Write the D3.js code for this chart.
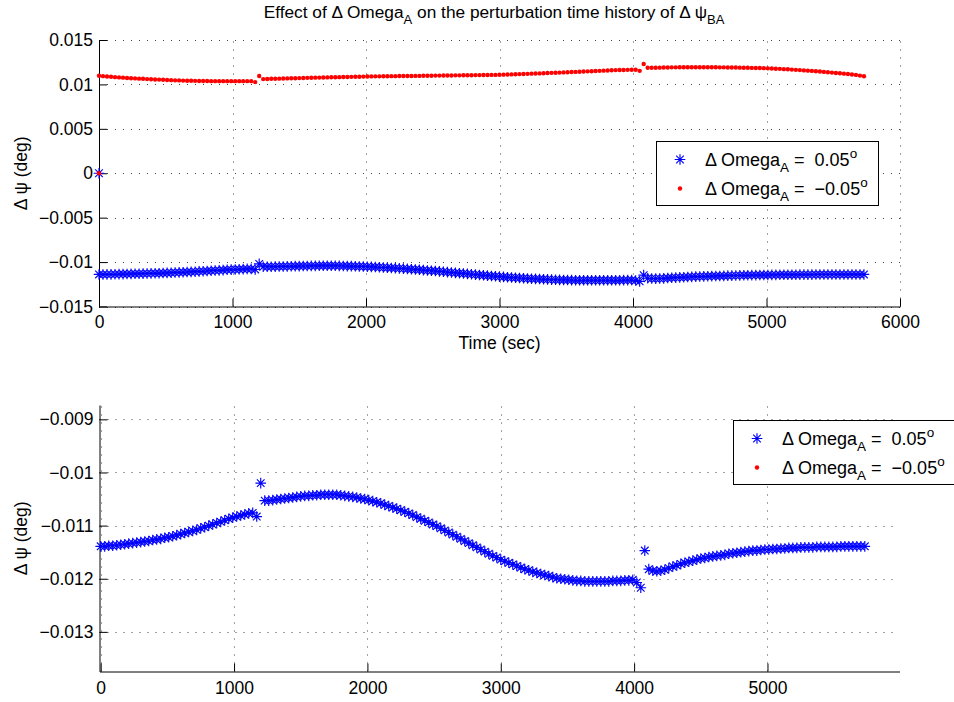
<!DOCTYPE html>
<html><head><meta charset="utf-8">
<script src="https://cdn.jsdelivr.net/npm/d3@7"></script>
<style>
body{margin:0;background:#fff;}
svg{font-family:"Liberation Sans",Arial,Helvetica,sans-serif;}
text{white-space:pre;}
</style></head><body>
<svg id="chart" width="954" height="702"></svg>
<script>
// sampling grid (s) of both runs
const sampleTimes = d3.range(0, 5731, 30);
// initial (t = 0) perturbation of both runs
const initialTime = [0];
const initialValue = [0];
// Δψ (deg) for ΔOmega_A = +0.05°
const psiPlus = [
-0.01139,-0.01139,-0.01138,-0.01138,-0.01137,-0.01136,-0.01135,-0.01134,-0.01133,-0.01132,
-0.01131,-0.01130,-0.01129,-0.01127,-0.01126,-0.01125,-0.01123,-0.01122,-0.01120,-0.01118,
-0.01116,-0.01114,-0.01112,-0.01110,-0.01108,-0.01105,-0.01103,-0.01100,-0.01098,-0.01095,
-0.01093,-0.01090,-0.01087,-0.01085,-0.01083,-0.01081,-0.01079,-0.01077,-0.01076,-0.01083,
-0.01020,-0.01053,-0.01053,-0.01052,-0.01051,-0.01050,-0.01049,-0.01048,-0.01047,-0.01046,
-0.01045,-0.01044,-0.01044,-0.01043,-0.01043,-0.01042,-0.01042,-0.01042,-0.01042,-0.01042,
-0.01043,-0.01044,-0.01045,-0.01046,-0.01047,-0.01049,-0.01050,-0.01052,-0.01054,-0.01056,
-0.01058,-0.01061,-0.01063,-0.01066,-0.01068,-0.01071,-0.01074,-0.01077,-0.01080,-0.01084,
-0.01087,-0.01091,-0.01094,-0.01098,-0.01101,-0.01105,-0.01109,-0.01113,-0.01117,-0.01121,
-0.01125,-0.01129,-0.01133,-0.01137,-0.01141,-0.01145,-0.01149,-0.01153,-0.01157,-0.01160,
-0.01164,-0.01167,-0.01170,-0.01173,-0.01176,-0.01179,-0.01182,-0.01184,-0.01187,-0.01189,
-0.01191,-0.01193,-0.01195,-0.01197,-0.01199,-0.01200,-0.01201,-0.01202,-0.01203,-0.01204,
-0.01204,-0.01205,-0.01205,-0.01205,-0.01205,-0.01205,-0.01205,-0.01205,-0.01204,-0.01204,
-0.01204,-0.01203,-0.01203,-0.01202,-0.01207,-0.01217,-0.01147,-0.01182,-0.01185,-0.01186,
-0.01185,-0.01183,-0.01180,-0.01177,-0.01175,-0.01172,-0.01170,-0.01168,-0.01166,-0.01164,
-0.01162,-0.01161,-0.01159,-0.01158,-0.01157,-0.01156,-0.01155,-0.01153,-0.01152,-0.01151,
-0.01150,-0.01149,-0.01148,-0.01147,-0.01147,-0.01146,-0.01145,-0.01145,-0.01144,-0.01144,
-0.01143,-0.01143,-0.01142,-0.01142,-0.01142,-0.01141,-0.01141,-0.01141,-0.01141,-0.01140,
-0.01140,-0.01140,-0.01140,-0.01140,-0.01140,-0.01139,-0.01139,-0.01139,-0.01139,-0.01139,
-0.01139,-0.01139
];
// Δψ (deg) for ΔOmega_A = -0.05°
const psiMinus = [
0.01097,0.01093,0.01089,0.01086,0.01082,0.01079,0.01076,0.01073,0.01070,0.01068,
0.01065,0.01063,0.01060,0.01058,0.01056,0.01054,0.01052,0.01050,0.01048,0.01046,
0.01045,0.01043,0.01042,0.01041,0.01040,0.01039,0.01038,0.01038,0.01037,0.01037,
0.01037,0.01037,0.01037,0.01037,0.01037,0.01037,0.01037,0.01037,0.01037,0.01026,
0.01095,0.01060,0.01061,0.01063,0.01064,0.01065,0.01066,0.01068,0.01069,0.01070,
0.01071,0.01072,0.01074,0.01075,0.01076,0.01077,0.01078,0.01079,0.01080,0.01081,
0.01082,0.01083,0.01084,0.01085,0.01086,0.01087,0.01088,0.01089,0.01090,0.01091,
0.01091,0.01092,0.01092,0.01093,0.01093,0.01094,0.01094,0.01095,0.01095,0.01096,
0.01096,0.01097,0.01098,0.01098,0.01099,0.01099,0.01100,0.01101,0.01101,0.01102,
0.01102,0.01103,0.01103,0.01104,0.01105,0.01105,0.01106,0.01106,0.01107,0.01107,
0.01108,0.01110,0.01111,0.01113,0.01115,0.01116,0.01118,0.01119,0.01121,0.01123,
0.01124,0.01126,0.01128,0.01130,0.01132,0.01133,0.01135,0.01137,0.01139,0.01141,
0.01143,0.01145,0.01147,0.01149,0.01151,0.01153,0.01155,0.01157,0.01159,0.01161,
0.01162,0.01163,0.01164,0.01165,0.01165,0.01153,0.01229,0.01187,0.01187,0.01188,
0.01189,0.01190,0.01191,0.01192,0.01192,0.01193,0.01193,0.01193,0.01193,0.01193,
0.01193,0.01193,0.01193,0.01193,0.01193,0.01192,0.01192,0.01191,0.01191,0.01190,
0.01189,0.01188,0.01187,0.01186,0.01185,0.01184,0.01183,0.01181,0.01179,0.01177,
0.01175,0.01172,0.01170,0.01167,0.01164,0.01161,0.01158,0.01155,0.01152,0.01149,
0.01145,0.01141,0.01137,0.01133,0.01129,0.01125,0.01121,0.01117,0.01112,0.01107,
0.01099,0.01092
];
const topXTicks = [0,1000,2000,3000,4000,5000,6000];
const topYTicks = [-0.015,-0.01,-0.005,0,0.005,0.01,0.015];
const botXTicks = [0,1000,2000,3000,4000,5000];
const botYTicks = [-0.013,-0.012,-0.011,-0.01,-0.009];
const legendValues = ["0.05","\u22120.05"];

const svg = d3.select("#chart");
const FONT = 17.5;

const fmt = d => d === 0 ? "0" : String(d).replace("-", "\u2212");
const starPath = "M-5.3,0H5.3M0,-5.3V5.3M-3.8,-3.8L3.8,3.8M-3.8,3.8L3.8,-3.8";

function rich(textSel, parts, small) {
  parts.forEach(p => {
    const ts = textSel.append("tspan").text(p.t);
    if (p.sub) { ts.attr("dy", 6).attr("font-size", small); }
    else if (p.sup) { ts.attr("dy", -8).attr("font-size", small); }
    if (p.back) ts.attr("dy", p.back);
  });
}
function richParts(list) {
  const out = [];
  let prev = null;
  list.forEach(([t, k]) => {
    const o = {t};
    if (k === "sub") o.sub = true;
    if (k === "sup") o.sup = true;
    if (!k && prev === "sub") o.back = -6;
    if (!k && prev === "sup") o.back = 8;
    out.push(o);
    prev = k;
  });
  return out;
}

function drawPanel(cfg) {
  const g = svg.append("g");
  const x = d3.scaleLinear().domain(cfg.xDomain).range(cfg.xRange);
  const y = d3.scaleLinear().domain(cfg.yDomain).range(cfg.yRange);
  const [x0, x1] = cfg.xRange, [yb, yt] = cfg.yRange;

  const grid = g.append("g").attr("stroke", "#444").attr("stroke-width", 1)
    .attr("stroke-dasharray", "1,7").attr("fill", "none");
  cfg.xTicks.forEach(t => grid.append("line")
    .attr("x1", Math.round(x(t)) + 0.5).attr("x2", Math.round(x(t)) + 0.5)
    .attr("y1", yb).attr("y2", yt));
  cfg.yTicks.forEach(t => grid.append("line")
    .attr("y1", Math.round(y(t)) + 0.5).attr("y2", Math.round(y(t)) + 0.5)
    .attr("x1", x0).attr("x2", x1));

  const ax = g.append("g").attr("transform", `translate(0,${yb})`)
    .call(d3.axisBottom(x).tickValues(cfg.xTicks).tickFormat(fmt)
      .tickSizeInner(-8).tickSizeOuter(0).tickPadding(cfg.xPad));
  const ay = g.append("g").attr("transform", `translate(${x0},0)`)
    .call(d3.axisLeft(y).tickValues(cfg.yTicks).tickFormat(fmt)
      .tickSizeInner(-8).tickSizeOuter(0).tickPadding(6));
  [ax, ay].forEach(a => {
    a.selectAll("text").attr("font-size", FONT).attr("fill", "#000")
      .attr("font-family", '"Liberation Sans",Arial,sans-serif');
    a.selectAll("line,path").attr("stroke", "#000");
  });

  const inRange = (t, v) => t >= cfg.xDomain[0] && t <= cfg.xDomain[1] &&
    v >= cfg.yDomain[0] && v <= cfg.yDomain[1];
  const blue = initialTime.map((t, i) => ({t, v: initialValue[i]}))
    .concat(sampleTimes.map((t, i) => ({t, v: psiPlus[i]}))).filter(d => inRange(d.t, d.v));
  const red = initialTime.map((t, i) => ({t, v: initialValue[i]}))
    .concat(sampleTimes.map((t, i) => ({t, v: psiMinus[i]}))).filter(d => inRange(d.t, d.v));

  g.append("g").selectAll("path").data(blue).join("path")
    .attr("d", starPath).attr("transform", d => `translate(${x(d.t)},${y(d.v)})`)
    .attr("stroke", "#0000ff").attr("stroke-width", 1.15).attr("fill", "none");
  g.append("g").selectAll("circle").data(red).join("circle")
    .attr("cx", d => x(d.t)).attr("cy", d => y(d.v)).attr("r", 2.2).attr("fill", "#ff0000");

  g.append("text").attr("transform", `translate(${cfg.yLabelX},${(yb + yt) / 2}) rotate(-90)`)
    .attr("text-anchor", "middle").attr("font-size", 17.5).text("\u0394 \u03c8 (deg)");

  const L = cfg.legend;
  g.append("rect").attr("x", L.x + 0.5).attr("y", L.y + 0.5).attr("width", L.w).attr("height", L.h)
    .attr("fill", "#fff").attr("stroke", "#000").attr("stroke-width", 1);
  legendValues.forEach((val, i) => {
    const my = L.y + L.rows[i];
    if (i === 0) g.append("path").attr("d", starPath).attr("transform", `translate(${L.mx},${my})`)
      .attr("stroke", "#0000ff").attr("stroke-width", 1.15).attr("fill", "none");
    else g.append("circle").attr("cx", L.mx).attr("cy", my).attr("r", 2.2).attr("fill", "#ff0000");
    const tx = g.append("text").attr("x", L.tx).attr("y", my + 6.5).attr("font-size", 18);
    rich(tx, richParts([["\u0394 Omega"], ["A", "sub"], [" =  " + val], ["o", "sup"]]), 13.5);
  });
  return {x, y};
}

drawPanel({
  xDomain: [0, 6000], xRange: [99, 900],
  yDomain: [-0.015, 0.015], yRange: [306.5, 40],
  xTicks: topXTicks, yTicks: topYTicks, xPad: 9, yLabelX: 27,
  legend: {x: 656, y: 141, w: 222, h: 64, rows: [18.5, 47.5], mx: 680, tx: 705}
});
drawPanel({
  xDomain: [-9, 5990], xRange: [99.5, 899.5],
  yDomain: [-0.013746, -0.00873], yRange: [671.5, 405],
  xTicks: botXTicks, yTicks: botYTicks, xPad: 10, yLabelX: 27,
  legend: {x: 733, y: 420, w: 222, h: 64, rows: [18.5, 47.5], mx: 757, tx: 782}
});

svg.append("text").attr("x", 499.5).attr("y", 349).attr("text-anchor", "middle")
  .attr("font-size", 17.5).text("Time (sec)");

const title = svg.append("text").attr("x", 494).attr("y", 18).attr("text-anchor", "middle")
  .attr("font-size", 17.3);
rich(title, richParts([["Effect of \u0394 Omega"], ["A", "sub"],
  [" on the perturbation time history of \u0394 \u03c8"], ["BA", "sub"]]), 13);
</script></body></html>
